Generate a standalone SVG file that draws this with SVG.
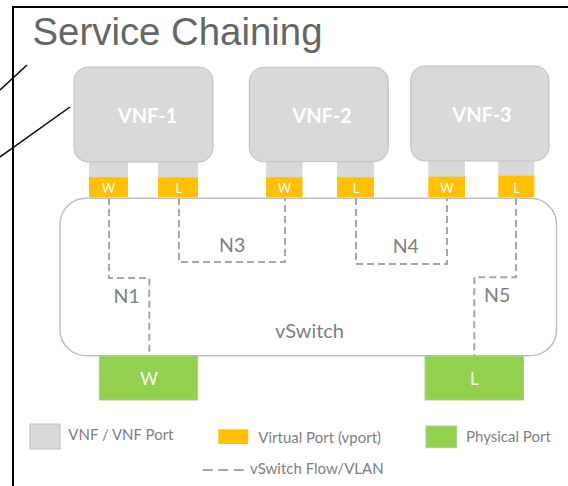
<svg xmlns="http://www.w3.org/2000/svg" width="568" height="486" viewBox="0 0 568 486">
<style>
.vnf{fill:#d9d9d9;stroke:#bfbfbf;stroke-width:1}
.stub{fill:#d9d9d9}
.vp{fill:#ffc000}
.pp{fill:#92d050;stroke:#a9d18e;stroke-width:1}
.flow{fill:none;stroke:#a6a6a6;stroke-width:2;stroke-dasharray:7 4}
.lbl{font-family:Lato,"Noto Sans",sans-serif;fill:#7f7f7f}
.wl{font-family:Lato,"Noto Sans",sans-serif;fill:#ffffff;text-anchor:middle}
.vt{font-family:Lato,"Noto Sans",sans-serif;font-weight:bold;fill:#ffffff;font-size:20px;text-anchor:middle}
</style>
<rect width="568" height="486" fill="#ffffff"/>
<g id="frame" fill="none" stroke="#000" stroke-width="2">
<path d="M13 486 V7 H570"/>
<line x1="0" y1="90" x2="27" y2="65" stroke-width="1.5"/>
<line x1="0" y1="157" x2="70" y2="107" stroke-width="1.5"/>
</g>
<text x="32.5" y="45" font-family="Liberation Sans,Arial,sans-serif" font-size="38" fill="#666666" textLength="290" lengthAdjust="spacingAndGlyphs">Service Chaining</text>

<g id="vswitch">
<rect x="60" y="198.3" width="496.5" height="157.4" rx="26" ry="26" fill="#ffffff" stroke="#bfbfbf" stroke-width="1.5"/>
<text class="lbl" x="309.5" y="338.3" font-size="20" text-anchor="middle">vSwitch</text>
</g>

<g id="vnf1">
<rect class="stub" x="89" y="160" width="39" height="18"/>
<rect class="stub" x="158" y="160" width="40" height="18"/>
<rect class="vnf" x="74" y="67" width="139" height="95" rx="14"/>
<text class="vt" x="147.5" y="122.7">VNF-1</text>
</g>
<g id="vnf1-w"><rect class="vp" x="89" y="177.3" width="39" height="20"/><text class="wl" x="108.5" y="193.3" font-size="13">W</text></g>
<g id="vnf1-l"><rect class="vp" x="158" y="177.3" width="40" height="20"/><text class="wl" x="178.5" y="193.3" font-size="13">L</text></g>

<g id="vnf2">
<rect class="stub" x="266" y="160" width="36.5" height="18"/>
<rect class="stub" x="337" y="160" width="37" height="18"/>
<rect class="vnf" x="249.3" y="67.3" width="139" height="94.4" rx="14"/>
<text class="vt" x="322" y="122.7">VNF-2</text>
</g>
<g id="vnf2-w"><rect class="vp" x="266" y="177.3" width="36.5" height="20"/><text class="wl" x="284.5" y="193.3" font-size="13">W</text></g>
<g id="vnf2-l"><rect class="vp" x="337" y="177.3" width="37" height="20"/><text class="wl" x="356" y="193.3" font-size="13">L</text></g>

<g id="vnf3">
<rect class="stub" x="428.3" y="159" width="36.7" height="18"/>
<rect class="stub" x="498.3" y="159" width="36" height="18"/>
<rect class="vnf" x="410.7" y="66" width="138.3" height="95" rx="14"/>
<text class="vt" x="482" y="121.7">VNF-3</text>
</g>
<g id="vnf3-w"><rect class="vp" x="428.3" y="176.7" width="36.7" height="20.6"/><text class="wl" x="447" y="193.3" font-size="13">W</text></g>
<g id="vnf3-l"><rect class="vp" x="498.3" y="175.7" width="36" height="21.6"/><text class="wl" x="516.5" y="193.3" font-size="13">L</text></g>

<g id="phys-w"><rect class="pp" x="99.3" y="356" width="98.4" height="44"/><text class="wl" x="149" y="385" font-size="17">W</text></g>
<g id="phys-l"><rect class="pp" x="425" y="356" width="98.5" height="44"/><text class="wl" x="474.3" y="385" font-size="17">L</text></g>

<g id="connectors">
<path class="flow" d="M109 198 V278 H149.3 V356"/>
<path class="flow" d="M179 198 V262 H285 V198"/>
<path class="flow" d="M356 198 V264 H447 V198"/>
<path class="flow" d="M516 198 V277.3 H474.3 V356"/>
<text class="lbl" x="113.5" y="303.3" font-size="19.5">N1</text>
<text class="lbl" x="219" y="251.7" font-size="19.5">N3</text>
<text class="lbl" x="392.7" y="253.3" font-size="19.5">N4</text>
<text class="lbl" x="484" y="301.7" font-size="19.5">N5</text>
</g>

<g id="legend">
<rect x="30" y="424" width="30" height="25" fill="#d9d9d9" stroke="#bfbfbf" stroke-width="1"/>
<text class="lbl" x="68.3" y="440" font-size="15">VNF / VNF Port</text>
<rect x="218.3" y="429.3" width="30" height="14.7" fill="#ffc000"/>
<text class="lbl" x="258.3" y="442.7" font-size="15">Virtual Port (vport)</text>
<rect class="pp" x="426" y="426" width="30.7" height="21.7"/>
<text class="lbl" x="466" y="441.7" font-size="15">Physical Port</text>
<line x1="202.7" y1="470" x2="244" y2="470" stroke="#a6a6a6" stroke-width="2" stroke-dasharray="10 5.5"/>
<text class="lbl" x="250" y="474" font-size="15">vSwitch Flow/VLAN</text>
</g>
</svg>
